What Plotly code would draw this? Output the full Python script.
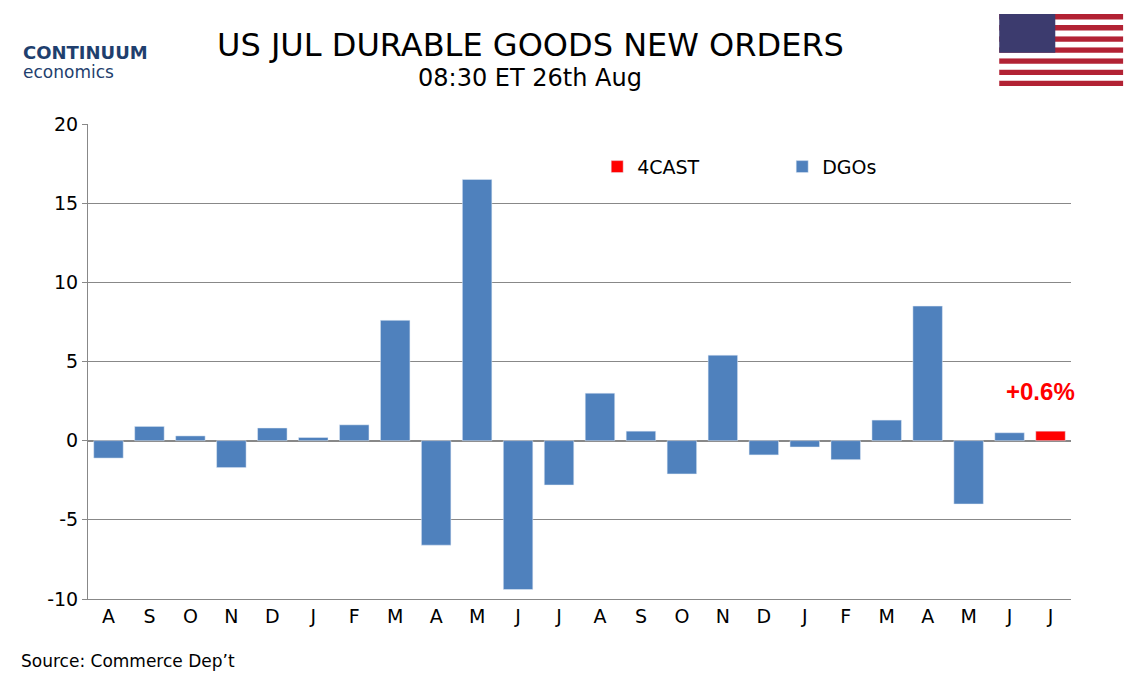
import plotly.graph_objects as go

months = ["A", "S", "O", "N", "D", "J", "F", "M", "A", "M", "J", "J",
          "A", "S", "O", "N", "D", "J", "F", "M", "A", "M", "J", "J"]
dgos = [-1.1, 0.9, 0.3, -1.7, 0.8, 0.2, 1.0, 7.6, -6.6, 16.5, -9.4, -2.8,
        3.0, 0.6, -2.1, 5.4, -0.9, -0.4, -1.2, 1.3, 8.5, -4.0, 0.5, None]
forecast = [None] * 23 + [0.6]
yticks = [-10, -5, 0, 5, 10, 15, 20]

x = list(range(len(months)))
fig = go.Figure()
fig.add_bar(x=x, y=forecast, name="4CAST", marker_color="#ff0000", width=0.72)
fig.add_bar(x=x, y=dgos, name="DGOs", marker_color="#4f81bd", width=0.72)

fig.update_layout(
    width=1134, height=680, plot_bgcolor="white", paper_bgcolor="white",
    barmode="overlay", font=dict(family="DejaVu Sans", size=19, color="black"),
    margin=dict(l=80, r=71, t=116, b=89, autoexpand=False),
    showlegend=True,
    legend=dict(orientation="h", x=0.518, y=0.95, xanchor="left", font=dict(size=19),
                bgcolor="rgba(0,0,0,0)", entrywidth=140),
    xaxis=dict(tickmode="array", tickvals=x, ticktext=months, range=[-0.5, 23.5],
               showline=True, linecolor="#888", ticks="", showgrid=False, automargin=False),
    yaxis=dict(range=[-10, 20], tickmode="array", tickvals=yticks,
               ticktext=[str(v) for v in yticks], showgrid=True, gridcolor="#888",
               gridwidth=1, zeroline=True, zerolinecolor="#888", showline=True,
               linecolor="#888", ticks="outside", ticklen=5, tickcolor="#888",
               automargin=False),
)
fig.add_annotation(x=23, y=0.6, text="<b>+0.6%</b>", showarrow=False, yshift=40,
                   xshift=-10, font=dict(color="#ff0000", size=24, family="Arial"))
fig.add_annotation(xref="paper", yref="paper", x=0.45, y=1.0, yshift=100, xanchor="center",
                   text="US JUL DURABLE GOODS NEW ORDERS", showarrow=False,
                   font=dict(size=32))
fig.add_annotation(xref="paper", yref="paper", x=0.45, y=1.0, yshift=62, xanchor="center",
                   text="08:30 ET 26th Aug", showarrow=False, font=dict(size=24))
fig.add_annotation(xref="paper", yref="paper", x=-0.07, y=-0.155, xanchor="left",
                   text="Source: Commerce Dep’t", showarrow=False, font=dict(size=17))
fig.add_annotation(xref="paper", yref="paper", x=-0.068, y=1.0, yshift=84, xanchor="left",
                   text="<b>CONTINUUM</b>", showarrow=False,
                   font=dict(size=18, color="#1f3f6e"))
fig.add_annotation(xref="paper", yref="paper", x=-0.068, y=1.0, yshift=64, xanchor="left",
                   text="economics", showarrow=False, font=dict(size=17, color="#1f3f6e"))
# flag
h = 72 / 475 / 13
base = 1.0 + 38 / 475
for i in range(13):
    fig.add_shape(type="rect", xref="paper", yref="paper", x0=0.927, x1=1.053,
                  y0=base + i * h, y1=base + (i + 1) * h,
                  fillcolor="#b22234" if i % 2 == 0 else "white", line_width=0)
fig.add_shape(type="rect", xref="paper", yref="paper", x0=0.927, x1=0.984,
              y0=base + 6 * h, y1=base + 13 * h, fillcolor="#3c3b6e", line_width=0)
fig.write_html("out.html")
